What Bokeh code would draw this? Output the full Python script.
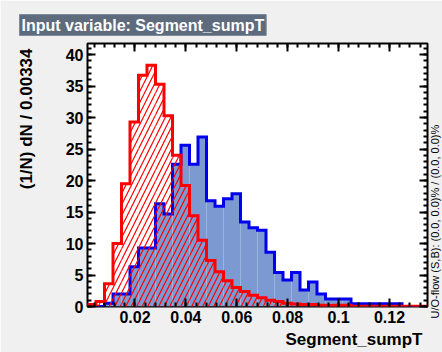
import numpy as np
from bokeh.plotting import figure
from bokeh.models import Range1d, LinearAxis, FixedTicker, Title, Label
from bokeh.embed import file_html
from bokeh.resources import INLINE

# ---- data ----
bin_width = 0.00334
x_start = 0.00134
n_bins = 40

signal = [0.0, 0.0, 0.5, 2.0, 2.0, 6.3, 9.3, 9.3, 16.3, 14.7,
          22.6, 25.6, 22.6, 26.9, 16.8, 15.9, 17.1, 17.9, 13.4, 12.5,
          12.1, 8.6, 5.4, 4.2, 5.4, 2.6, 3.9, 2.0, 1.2, 1.2,
          1.2, 0.45, 0.45, 0.45, 0.45, 0.45, 0.45, 0.0, 0.0, 0.0]

background = [0.3, 0.8, 3.6, 10.0, 19.5, 29.3, 36.7, 38.3, 35.3, 30.3,
              24.0, 19.2, 14.4, 10.5, 7.3, 5.5, 4.1, 3.0, 2.4, 1.8,
              1.4, 1.0, 0.8, 0.5, 0.4, 0.3, 0.3, 0.2, 0.15, 0.2,
              0.2, 0.05, 0.05, 0.05, 0.05, 0.05, 0.05, 0.05, 0.05, 0.05]

x_ticks = [0.02, 0.04, 0.06, 0.08, 0.1, 0.12]
x_tick_labels = ["0.02", "0.04", "0.06", "0.08", "0.1", "0.12"]
y_ticks = [0, 5, 10, 15, 20, 25, 30, 35, 40]
y_tick_labels = ["0", "5", "10", "15", "20", "25", "30", "35", "40"]

title_text = "Input variable: Segment_sumpT"
x_title = "Segment_sumpT"
y_title = "(1/N) dN / 0.00334"
flow_text = "U/O-flow (S,B): (0.0, 0.0)% / (0.0, 0.0)%"

# ---- layout ----
W, H = 442, 352
L, R, T, B = 87, 15, 43, 46
edges = x_start + bin_width * np.arange(n_bins + 1)
x_end = float(edges[-1])
y_max = 41.75

p = figure(width=W, height=H, x_range=Range1d(x_start, x_end), y_range=Range1d(0, y_max),
           output_backend="svg", toolbar_location=None,
           x_axis_type=None, y_axis_type=None,
           min_border_left=L, min_border_right=R, min_border_top=T, min_border_bottom=B)
p.background_fill_color = "white"
p.border_fill_color = "#f0f0f0"
p.outline_line_color = "black"
p.outline_line_width = 2
p.xgrid.visible = False
p.ygrid.visible = False

x_minor = [round(0.004 * k, 4) for k in range(1, 35)]
y_minor = list(range(0, 42))


def make_axis(ticks, minor, labels, show):
    ax = LinearAxis(ticker=FixedTicker(ticks=ticks, minor_ticks=minor),
                    axis_line_color=None,
                    major_tick_in=8, major_tick_out=0,
                    minor_tick_in=4, minor_tick_out=0,
                    major_tick_line_width=2, minor_tick_line_width=2,
                    major_tick_line_color="black", minor_tick_line_color="black")
    if show:
        ax.major_label_overrides = {t: s for t, s in zip(ticks, labels)}
        ax.major_label_text_font = "Liberation Sans"
        ax.major_label_text_font_style = "bold"
        ax.major_label_text_font_size = "16px"
        ax.major_label_text_color = "black"
        ax.major_label_standoff = 4
    else:
        ax.major_label_text_font_size = "0px"
        ax.major_label_text_alpha = 0
        ax.major_label_standoff = 0
    return ax


p.add_layout(make_axis(x_ticks, x_minor, x_tick_labels, True), "below")
p.add_layout(make_axis(x_ticks, x_minor, x_tick_labels, False), "above")
p.add_layout(make_axis(y_ticks, y_minor, y_tick_labels, True), "left")
p.add_layout(make_axis(y_ticks, y_minor, y_tick_labels, False), "right")


def outline(vals):
    xs = np.repeat(edges, 2)
    ys = np.concatenate([[0.0], np.repeat(np.asarray(vals, dtype=float), 2), [0.0]])
    return xs, ys


# signal (blue)
p.quad(left=edges[:-1], right=edges[1:], bottom=0, top=signal,
       fill_color="#7d99d1", line_color=None)
sx, sy = outline(signal)
p.line(sx, sy, line_color="#0000ee", line_width=3, line_join="miter")

# background (red, hatched)
p.quad(left=edges[:-1], right=edges[1:], bottom=0, top=background,
       fill_color=None, line_color=None,
       hatch_pattern="/", hatch_color="#ff0000", hatch_scale=11, hatch_weight=1.2)
bx, by = outline(background)
p.line(bx, by, line_color="#ff0000", line_width=3, line_join="miter")

# ---- texts ----
p.title = Title(text=title_text, align="left", offset=-68, standoff=16,
                text_font="Liberation Sans", text_font_style="bold", text_font_size="16px",
                text_color="white", background_fill_color="#5D6B7D",
                border_line_color="#7D8B9D", padding=2)
p.title_location = "above"

p.add_layout(Title(text=x_title, align="right", offset=5, standoff=4,
                   text_font="Liberation Sans", text_font_style="bold", text_font_size="17px",
                   text_color="black"), "below")


def dx(px):
    return x_start + (px - L) * (x_end - x_start) / (W - L - R)


def dy(py):
    return (H - B - py) * y_max / (H - T - B)


# y-axis title, rotated, top-aligned, in the left margin
p.add_layout(Label(x=dx(25.5), y=dy(48), text=y_title, angle=np.pi / 2,
                   text_font="Liberation Sans", text_font_style="bold", text_font_size="17px",
                   text_color="black", text_align="right", text_baseline="middle"),
             "left")

# under/overflow note, rotated, in the right-hand margin
p.add_layout(Label(x=dx(434.5), y=dy(318), text=flow_text, angle=np.pi / 2,
                   text_font="Liberation Sans", text_font_size="11px",
                   text_color="black", text_align="left", text_baseline="middle"),
             "right")

open("out.html", "w").write(file_html(p, INLINE))
